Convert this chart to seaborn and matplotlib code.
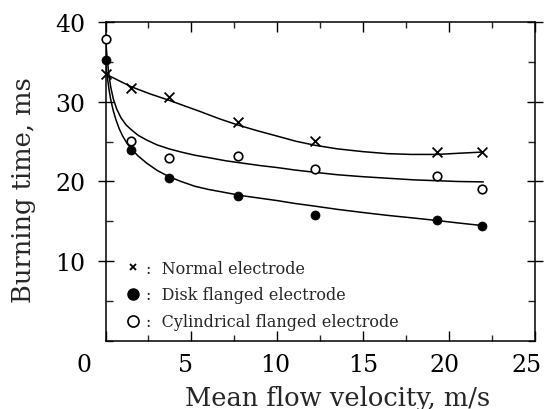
import numpy as np
import pandas as pd
import seaborn as sns
import matplotlib.pyplot as plt
from matplotlib.lines import Line2D
from matplotlib.ticker import MultipleLocator
from matplotlib.transforms import ScaledTranslation

# measured points
velocity = [0.0, 1.5, 3.7, 7.7, 12.2, 19.3, 21.9]
normal_time = [33.5, 31.7, 30.6, 27.5, 25.1, 23.7, 23.7]
disk_time = [35.3, 24.0, 20.4, 18.2, 15.8, 15.1, 14.4]
cylinder_time = [37.9, 25.1, 22.9, 23.2, 21.6, 20.65, 19.1]

# fitted curves
normal_curve_x = [0.0, 0.75, 1.5, 2.6, 3.7, 4.6, 5.5, 6.6, 7.7, 8.8, 10.0, 11.1, 12.2,
                  13.5, 15.0, 16.4, 17.8, 19.3, 20.6, 22.0]
normal_curve_y = [33.5, 32.7, 31.9, 31.0, 30.2, 29.5, 28.8, 27.9, 27.1, 26.4, 25.7,
                  25.05, 24.55, 24.1, 23.75, 23.5, 23.4, 23.4, 23.55, 23.7]

disk_curve_x = [0.0, 0.1, 0.2, 0.3, 0.45, 0.6, 0.8, 1.0, 1.25, 1.5, 1.9, 2.4, 3.0, 3.7,
                4.4, 5.2, 6.0, 7.0, 8.0, 9.0, 10.0, 11.0, 12.2, 13.5, 15.0, 16.4, 18.0,
                19.3, 20.5, 22.0]
disk_curve_y = [35.3, 33.2, 31.6, 30.3, 28.9, 27.8, 26.6, 25.7, 24.8, 24.1, 23.2, 22.3,
                21.4, 20.6, 20.0, 19.4, 19.0, 18.6, 18.2, 17.9, 17.6, 17.25, 16.9, 16.5,
                16.1, 15.75, 15.4, 15.1, 14.8, 14.45]

cylinder_curve_x = [0.0, 0.1, 0.2, 0.3, 0.45, 0.65, 0.9, 1.2, 1.5, 1.9, 2.4, 3.0, 3.7,
                    4.4, 5.2, 6.0, 7.0, 8.0, 9.0, 10.0, 11.0, 12.2, 13.5, 15.0, 16.5,
                    18.0, 19.3, 20.5, 22.0]
cylinder_curve_y = [38.0, 35.3, 33.4, 31.9, 30.4, 29.1, 28.0, 27.1, 26.5, 25.8, 25.2,
                    24.6, 24.1, 23.7, 23.3, 23.0, 22.6, 22.3, 22.0, 21.75, 21.45, 21.15,
                    20.85, 20.6, 20.4, 20.2, 20.1, 20.0, 19.95]

x_ticks = [0, 5, 10, 15, 20, 25]
y_ticks = [10, 20, 30, 40]

sns.set_style('white')
plt.rcParams['font.family'] = ['DejaVu Serif']
plt.rcParams['axes.linewidth'] = 1.1

fig = plt.figure(figsize=(5.44, 4.10), dpi=100)
ax = fig.add_axes([0.194, 0.1666, 0.789, 0.7766])

# curves
for cx, cy in [(normal_curve_x, normal_curve_y),
               (disk_curve_x, disk_curve_y),
               (cylinder_curve_x, cylinder_curve_y)]:
    sns.lineplot(x=cx, y=cy, color='black', linewidth=1.1, ax=ax,
                 sort=False, estimator=None)

# points
sns.scatterplot(x=velocity, y=normal_time, marker='x', color='black', s=50,
                linewidth=1.3, ax=ax, clip_on=False, zorder=3)
sns.scatterplot(x=velocity, y=disk_time, marker='o', color='black', s=42,
                edgecolor='black', ax=ax, clip_on=False, zorder=3)
sns.scatterplot(x=velocity, y=cylinder_time, marker='o', facecolor='white', s=38,
                edgecolor='black', linewidth=1.2, ax=ax, clip_on=False, zorder=3)

ax.set_xlim(0, 25)
ax.set_ylim(0, 40)
ax.set_xticks(x_ticks)
ax.xaxis.set_minor_locator(MultipleLocator(2.5))
ax.set_yticks(y_ticks)
ax.yaxis.set_minor_locator(MultipleLocator(5))

for s in ax.spines.values():
    s.set_color('black')
    s.set_linewidth(1.1)

ax.tick_params(axis='x', which='major', direction='in', length=7, width=1.0,
               top=True, bottom=True, labelsize=17, pad=9, colors='black')
ax.tick_params(axis='x', which='minor', direction='in', length=4, width=1.0,
               top=True, bottom=True)
ax.tick_params(axis='y', which='major', direction='inout', length=11, width=1.0,
               left=True, right=True, labelsize=17, pad=9, colors='black')
ax.tick_params(axis='y', which='minor', direction='in', length=5, width=1.0,
               left=True, right=True)

# nudge the x labels as in the original; the 0 sits at the corner
shifts = [-22, -6, -2, 0, -4, -8]
for lab, dx in zip(ax.get_xticklabels(), shifts):
    lab.set_transform(lab.get_transform()
                      + ScaledTranslation(dx / 100, 0, fig.dpi_scale_trans))

ax.set_xlabel('Mean flow velocity, m/s', fontsize=18.5)
ax.xaxis.set_label_coords(0.541, -0.14)
ax.set_ylabel('Burning time, ms', fontsize=18.5)
ax.yaxis.set_label_coords(-0.163, 0.476)

handles = [
    Line2D([], [], marker='x', color='black', linestyle='none', markersize=5,
           markeredgewidth=1.3),
    Line2D([], [], marker='o', color='black', linestyle='none', markersize=8),
    Line2D([], [], marker='o', markerfacecolor='white', markeredgecolor='black',
           linestyle='none', markersize=8, markeredgewidth=1.2),
]
labels = [':  Normal electrode', ':  Disk flanged electrode',
          ':  Cylindrical flanged electrode']
ax.legend(handles, labels, loc='upper left', bbox_to_anchor=(0.045, 0.255),
          frameon=False, fontsize=11.5, handlelength=1.0, handletextpad=0.3,
          labelspacing=0.62, borderpad=0, borderaxespad=0)

fig.savefig('out.png', dpi=100)
